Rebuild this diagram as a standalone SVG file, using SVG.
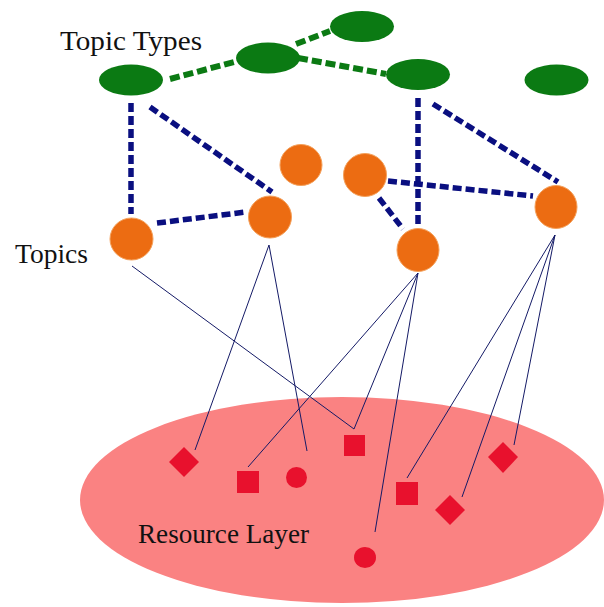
<svg xmlns="http://www.w3.org/2000/svg" width="604" height="607" viewBox="0 0 604 607">
<style>
.type{fill:#0b7a13}
.topic{fill:#ec6c12;stroke:#f4a05a;stroke-width:1}
.res{fill:#e8112d}
.gdash{stroke:#0b7a13;stroke-width:6;stroke-dasharray:10 4;fill:none}
.bdash{stroke:#0a0f80;stroke-width:5.5;stroke-dasharray:9 4;fill:none}
.thin{stroke:#141a66;stroke-width:1;fill:none}
.lbl{font-family:"Liberation Serif",serif;font-size:27px;fill:#111}
</style>
<rect width="604" height="607" fill="#ffffff"/>
<g id="resource-layer">
<ellipse cx="342" cy="500" rx="262" ry="103" fill="#fa8282"/>
<text class="lbl" x="138" y="543" textLength="171" lengthAdjust="spacingAndGlyphs">Resource Layer</text>
</g>
<g id="label-topic-types"><text class="lbl" x="60" y="50" textLength="142" lengthAdjust="spacingAndGlyphs">Topic Types</text></g>
<g id="label-topics"><text class="lbl" x="15" y="263" textLength="73" lengthAdjust="spacingAndGlyphs">Topics</text></g>
<g id="connectors">
<line class="gdash" x1="170" y1="79" x2="234" y2="62"/>
<line class="gdash" x1="296" y1="44" x2="330" y2="31"/>
<line class="gdash" x1="298" y1="58" x2="386" y2="74"/>
<line class="bdash" x1="131" y1="103" x2="131" y2="214"/>
<line class="bdash" x1="150" y1="107" x2="272" y2="192"/>
<line class="bdash" x1="157" y1="223" x2="246" y2="212"/>
<line class="bdash" x1="418" y1="98" x2="418" y2="226"/>
<line class="bdash" x1="433" y1="104" x2="558" y2="182"/>
<line class="bdash" x1="388" y1="181" x2="533" y2="196"/>
<line class="bdash" x1="379" y1="198" x2="403" y2="229"/>
<line class="thin" x1="132" y1="266" x2="354" y2="429"/>
<line class="thin" x1="269" y1="245" x2="195" y2="450"/>
<line class="thin" x1="269" y1="245" x2="307" y2="451"/>
<line class="thin" x1="418" y1="273" x2="248" y2="467"/>
<line class="thin" x1="418" y1="273" x2="354" y2="429"/>
<line class="thin" x1="418" y1="273" x2="375" y2="532"/>
<line class="thin" x1="555" y1="235" x2="407" y2="478"/>
<line class="thin" x1="555" y1="235" x2="462" y2="497"/>
<line class="thin" x1="555" y1="235" x2="514" y2="445"/>
</g>
<g id="type1"><ellipse class="type" cx="131" cy="80" rx="32" ry="15.5"/></g>
<g id="type2"><ellipse class="type" cx="268" cy="58" rx="32" ry="15.5"/></g>
<g id="type3"><ellipse class="type" cx="362" cy="26.5" rx="32" ry="15.5"/></g>
<g id="type4"><ellipse class="type" cx="418" cy="74.5" rx="32" ry="15.5"/></g>
<g id="type5"><ellipse class="type" cx="556.5" cy="80" rx="32" ry="15.5"/></g>
<g id="topic1"><ellipse class="topic" cx="131.5" cy="239" rx="21.5" ry="21"/></g>
<g id="topic2"><ellipse class="topic" cx="270" cy="217" rx="21.5" ry="21"/></g>
<g id="topic3"><ellipse class="topic" cx="301" cy="165" rx="21" ry="20.5"/></g>
<g id="topic4"><ellipse class="topic" cx="365" cy="175" rx="21.5" ry="21.5"/></g>
<g id="topic5"><ellipse class="topic" cx="418" cy="250" rx="21" ry="21.5"/></g>
<g id="topic6"><ellipse class="topic" cx="556" cy="207" rx="21" ry="21.5"/></g>
<g id="res-diamond1"><polygon class="res" points="184,447 199,462 184,477 169,462"/></g>
<g id="res-square1"><rect class="res" x="344" y="435" width="21" height="21"/></g>
<g id="res-square2"><rect class="res" x="237" y="471" width="22" height="22"/></g>
<g id="res-circle1"><ellipse class="res" cx="296.5" cy="477.5" rx="10.5" ry="10.5"/></g>
<g id="res-square3"><rect class="res" x="396" y="482" width="22" height="23"/></g>
<g id="res-diamond2"><polygon class="res" points="450,495 465,510 450,525 435,510"/></g>
<g id="res-diamond3"><polygon class="res" points="503,442 518,457 503,473 488,457"/></g>
<g id="res-circle2"><ellipse class="res" cx="365" cy="557.5" rx="11" ry="10.5"/></g>
</svg>
